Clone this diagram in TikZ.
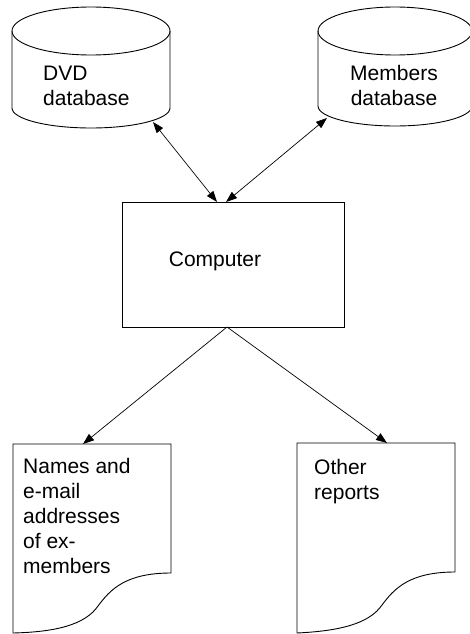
\documentclass[tikz,border=0pt]{standalone}
\usepackage{fontspec}
\setmainfont{Liberation Sans}
\usetikzlibrary{arrows.meta}
\begin{document}
\begin{tikzpicture}[x=1pt,y=-1pt,
  shp/.style={draw=black,line width=0.9pt,fill=white},
  lbl/.style={inner sep=0pt,align=left,font=\fontsize{21}{25}\selectfont},
  con/.style={line width=0.7pt,-{Triangle[length=11pt,width=8pt]}},
  bicon/.style={line width=0.7pt,{Triangle[length=11pt,width=8pt]}-{Triangle[length=11pt,width=8pt]}}]
\useasboundingbox (0,0) rectangle (469,634);
% DVD database cylinder
\draw[shp] (12,31) -- (12,108) arc[start angle=180,end angle=0,x radius=79,y radius=20] -- (170,31)
  arc[start angle=0,end angle=-180,x radius=79,y radius=24] -- cycle;
\draw[shp,fill=none] (12,31) arc[start angle=180,end angle=0,x radius=79,y radius=24];
\node[lbl,anchor=base west] (dvd) at (43,105) {DVD\\database};
% Members database cylinder
\draw[shp] (318,31) -- (318,106) arc[start angle=180,end angle=0,x radius=77,y radius=20] -- (472,31)
  arc[start angle=0,end angle=-180,x radius=77,y radius=24] -- cycle;
\draw[shp,fill=none] (318,31) arc[start angle=180,end angle=0,x radius=77,y radius=24];
\node[lbl,align=center,anchor=base] (mem) at (394,105) {Members\\database};
% Computer
\node[shp,minimum width=222pt,minimum height=125pt,inner sep=0pt] (comp) at (233,264.5) {};
\node[lbl,anchor=base] (comptxt) at (215,266) {Computer};
% Documents
\draw[shp] (13,444) -- (171,444) -- (171,573)
  .. controls (125,573) and (110,590) .. (98,606)
  .. controls (85,625) and (55,632) .. (13,633) -- cycle;
\node[lbl,anchor=base west] (names) at (23,573) {Names and\\e-mail\\addresses\\of ex-\\members};
\draw[shp] (297,443) -- (455,443) -- (455,572)
  .. controls (409,572) and (394,589) .. (382,605)
  .. controls (369,624) and (339,631) .. (297,633) -- cycle;
\node[lbl,anchor=base west] (other) at (314,499) {Other\\reports};
% connector end points
\coordinate (dvdb) at (153,122);
\coordinate (memb) at (327,118);
\coordinate (ct1) at (217,202);
\coordinate (ct2) at (226,202);
\coordinate (cb) at (227,327);
\coordinate (d1t) at (83,444);
\coordinate (d2t) at (387,443);
\draw[bicon] (dvdb) -- (ct1);
\draw[bicon] (memb) -- (ct2);
\draw[con] (cb) -- (d1t);
\draw[con] (cb) -- (d2t);
\end{tikzpicture}
\end{document}
